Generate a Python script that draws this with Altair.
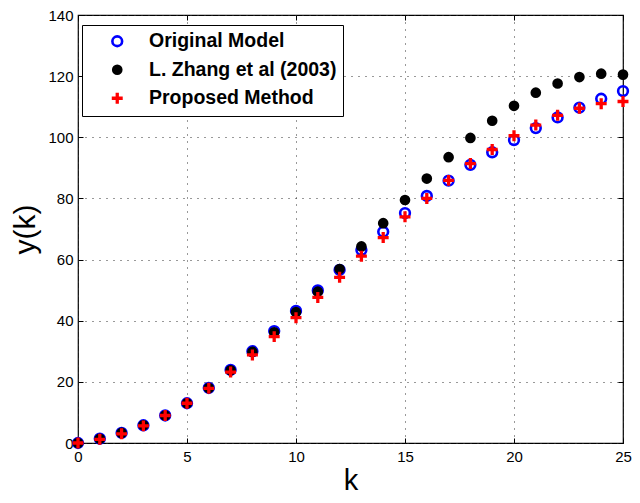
import altair as alt
import pandas as pd

k = list(range(26))
original = [0, 1.4, 3.3, 5.8, 9.0, 13.0, 18.0, 23.9, 30.0, 36.6, 43.2, 49.9, 56.6, 63.1,
            69.1, 75.2, 80.8, 85.8, 91.0, 95.1, 99.1, 103.0, 106.5, 109.7, 112.6, 115.1]
zhang = [0, 1.4, 3.3, 5.8, 9.0, 13.0, 18.0, 23.8, 29.8, 36.2, 42.8, 49.5, 56.9, 64.3,
         71.9, 79.5, 86.5, 93.5, 99.8, 105.4, 110.3, 114.6, 117.6, 119.7, 120.8, 120.5]
proposed = [0, 1.2, 3.0, 5.6, 9.0, 13.0, 17.9, 23.2, 28.8, 34.8, 41.0, 47.6, 54.2, 61.1,
            67.2, 74.0, 80.0, 85.9, 91.4, 96.0, 100.5, 104.0, 107.2, 109.5, 111.0, 111.7]
series_names = ["Original Model", "L. Zhang et al (2003)", "Proposed Method"]
x_ticks = [0, 5, 10, 15, 20, 25]
y_ticks = [0, 20, 40, 60, 80, 100, 120, 140]

rows = []
for name, vals in zip(series_names, [original, zhang, proposed]):
    for kk, v in zip(k, vals):
        rows.append({"k": kk, "y": v, "series": name})
df = pd.DataFrame(rows)

plus = ("M-1,-0.3L-0.3,-0.3L-0.3,-1L0.3,-1L0.3,-0.3L1,-0.3L1,0.3L0.3,0.3"
        "L0.3,1L-0.3,1L-0.3,0.3L-1,0.3Z")

FONT = "Liberation Sans"

def xs():
    return alt.Scale(domain=[0, 25], nice=False, zero=False)

def ys():
    return alt.Scale(domain=[0, 140], nice=False, zero=False)

leg = alt.Legend(
    title=None, orient="none", legendX=4, legendY=10,
    fillColor="white", strokeColor="black", padding=6.5, rowPadding=7.5,
    symbolOffset=19, labelOffset=22, labelFontSize=19.5, labelFont=FONT,
    labelFontWeight="bold", labelColor="black", symbolStrokeWidth=2.6,
    cornerRadius=0, labelLimit=400,
)

dom = series_names
points = alt.Chart(df).mark_point(opacity=1, strokeWidth=2.6).encode(
    x=alt.X("k:Q", scale=xs(), axis=alt.Axis(
        values=x_ticks, title="k", grid=True, ticks=False, domain=False,
        labelFlush=False, labelOverlap=False,
        labelFontSize=15, labelFont=FONT, labelColor="black", labelPadding=6,
        titleFontSize=29, titleFont=FONT, titleFontWeight="normal",
        titleColor="black", titlePadding=2,
        gridColor="#333333", gridDash=[1, 6], gridWidth=1, gridOpacity=1)),
    y=alt.Y("y:Q", scale=ys(), axis=alt.Axis(
        values=y_ticks, title="y(k)", grid=True, ticks=False, domain=False,
        labelFlush=False, labelOverlap=False,
        labelFontSize=15, labelFont=FONT, labelColor="black", labelPadding=5,
        titleFontSize=30, titleFont=FONT, titleFontWeight="normal",
        titleColor="black", titlePadding=7,
        gridColor="#333333", gridDash=[1, 6], gridWidth=1, gridOpacity=1)),
    stroke=alt.Stroke("series:N", scale=alt.Scale(domain=dom, range=["#0000ff", "#000000", "transparent"]), legend=leg),
    fill=alt.Fill("series:N", scale=alt.Scale(domain=dom, range=["transparent", "#000000", "#ff0000"]), legend=leg),
    shape=alt.Shape("series:N", scale=alt.Scale(domain=dom, range=["circle", "circle", plus]), legend=leg),
    size=alt.Size("series:N", scale=alt.Scale(type="ordinal", domain=dom, range=[95, 65, 120]), legend=leg),
)

tick_axis = dict(labels=False, domain=False, grid=False, ticks=True, tickSize=5,
                 tickColor="black", tickWidth=1, title=None, offset=-5)

ticks_tr = alt.Chart(df).mark_point(opacity=0).encode(
    x=alt.X("k:Q", scale=xs(), axis=alt.Axis(values=x_ticks, orient="top", **tick_axis)),
    y=alt.Y("y:Q", scale=ys(), axis=alt.Axis(values=y_ticks, orient="right", **tick_axis)),
)
ticks_bl = alt.Chart(df).mark_point(opacity=0).encode(
    x=alt.X("k:Q", scale=xs(), axis=alt.Axis(values=x_ticks, orient="bottom", **tick_axis)),
    y=alt.Y("y:Q", scale=ys(), axis=alt.Axis(values=y_ticks, orient="left", **tick_axis)),
)

chart = alt.layer(points, ticks_tr, ticks_bl).resolve_scale(
    x="independent", y="independent"
).properties(
    width=545, height=428,
    autosize=alt.AutoSizeParams(type="none"),
    padding={"left": 70, "top": 7, "right": 9, "bottom": 52},
    background="white",
).configure_view(stroke="black", strokeWidth=1.2)

chart.save("out.html", embed_options={"renderer": "svg", "actions": False})
